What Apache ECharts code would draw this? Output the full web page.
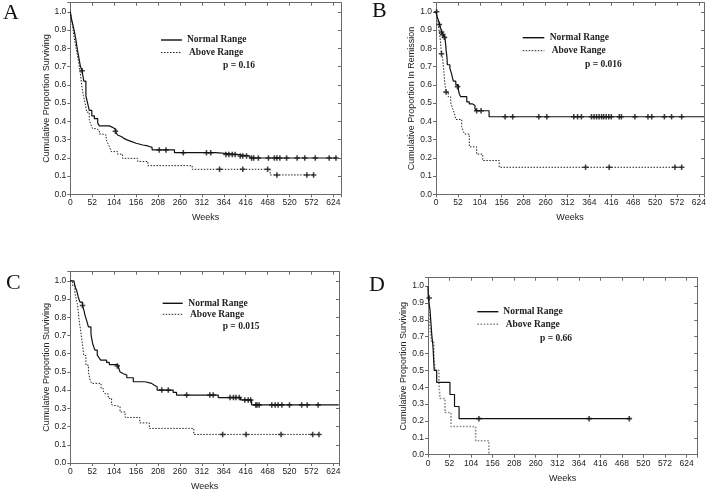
<!DOCTYPE html>
<html><head><meta charset="utf-8">
<script src="https://cdn.jsdelivr.net/npm/echarts@6/dist/echarts.min.js"></script>
<style>html,body{margin:0;padding:0;background:#fff}#c{width:710px;height:492px}</style>
</head><body><div id="c"></div>
<script>
// ---------- DATA ----------
const panelLetters = ['A', 'B', 'C', 'D'];
const yTitles = ['Cumulative Proportion Surviving', 'Cumulative Proportion In Remission',
                 'Cumulative Proportion Surviving', 'Cumulative Proportion Surviving'];
const pValues = ['p = 0.16', 'p = 0.016', 'p = 0.015', 'p = 0.66'];
const legendNames = ['Normal Range', 'Above Range'];
const xTitle = 'Weeks';
const weekStep = 52;
const propStep = 0.1;

// Panel A  [week, cumulative proportion]
const A_normal = [[0,1],[3,0.96],[6,0.93],[9,0.9],[13,0.85],[17,0.79],[21,0.74],[24,0.70],[28,0.677],[32,0.62],[37,0.54],[41,0.5],[45,0.46],[51,0.43],[57,0.415],[65,0.39],[69,0.375],[93,0.365],[102,0.355],[108,0.34],[112,0.325],[116,0.315],[122,0.305],[128,0.297],[136,0.29],[144,0.28],[156,0.27],[172,0.265],[184,0.257],[194,0.243],[247,0.228],[345,0.218],[399,0.21],[426,0.199],[632,0.199]];
const A_normalCens = [[28,0.677],[107,0.345],[211,0.243],[227,0.243],[268,0.228],[323,0.228],[333,0.228],[369,0.218],[376,0.218],[384,0.218],[391,0.218],[403,0.21],[409,0.21],[418,0.21],[430,0.199],[435,0.199],[446,0.199],[470,0.199],[484,0.199],[490,0.199],[497,0.199],[513,0.199],[538,0.199],[556,0.199],[581,0.199],[614,0.199],[630,0.199]];
const A_above = [[0,1],[3,0.95],[5.5,0.92],[9,0.86],[13,0.81],[17,0.76],[20,0.72],[24,0.66],[28,0.58],[31,0.54],[35,0.5],[39,0.45],[45,0.41],[49,0.38],[53,0.36],[61,0.35],[69,0.33],[77,0.325],[85,0.30],[89,0.28],[93,0.26],[97,0.234],[112,0.22],[124,0.197],[160,0.18],[184,0.157],[289,0.137],[474,0.106],[578,0.106]];
const A_aboveCens = [[354,0.137],[409,0.137],[468,0.137],[490,0.106],[561,0.106],[577,0.106]];

// Panel B
const B_normal = [[0,1],[3,0.97],[5.5,0.955],[9,0.93],[11,0.91],[14,0.89],[17,0.875],[21,0.86],[23,0.82],[24,0.79],[26,0.75],[27,0.71],[33,0.69],[37,0.66],[39,0.64],[41,0.62],[47,0.60],[53,0.575],[55,0.553],[58.5,0.535],[73,0.507],[79,0.495],[87,0.487],[92.5,0.47],[95,0.458],[126,0.425],[636,0.425]];
const B_normalCens = [[1.5,1.0],[8,0.93],[13,0.89],[16,0.875],[20,0.86],[51,0.59],[96.5,0.458],[107,0.458],[164,0.425],[182,0.425],[244,0.425],[263,0.425],[327,0.425],[336,0.425],[345,0.425],[369,0.425],[375,0.425],[381,0.425],[387,0.425],[393,0.425],[398,0.425],[404,0.425],[410,0.425],[416,0.425],[435,0.425],[440,0.425],[472,0.425],[503,0.425],[512,0.425],[542,0.425],[559,0.425],[583,0.425]];
const B_above = [[0,1],[3,0.99],[4,0.96],[5.5,0.93],[8,0.89],[9.5,0.86],[12,0.8],[13,0.77],[16,0.74],[17,0.71],[19,0.67],[20,0.63],[22,0.59],[24,0.56],[29,0.535],[35,0.50],[38,0.48],[41,0.46],[44,0.44],[47,0.41],[61,0.37],[65,0.343],[68,0.33],[79,0.26],[96.5,0.22],[111,0.185],[150,0.148],[587,0.148]];
const B_aboveCens = [[13,0.77],[24,0.56],[355,0.148],[411,0.148],[567,0.148],[583,0.148]];

// Panel C
const C_normal = [[0,1],[8.7,0.99],[11,0.97],[15,0.947],[19,0.91],[23,0.883],[29,0.865],[32,0.84],[35,0.81],[39,0.78],[43,0.747],[49,0.71],[51,0.68],[53,0.656],[56,0.635],[58.5,0.62],[64,0.592],[68,0.578],[72,0.565],[86,0.552],[92.5,0.54],[113,0.532],[115,0.52],[118,0.5],[122,0.49],[126,0.483],[134,0.468],[149.5,0.446],[177,0.437],[193,0.428],[198.5,0.419],[206,0.40],[244,0.388],[252,0.373],[351,0.359],[404,0.346],[430,0.319],[637,0.319]];
const C_normalCens = [[29,0.865],[111.5,0.532],[217,0.40],[232.5,0.40],[276,0.373],[331,0.373],[339,0.373],[379,0.359],[387,0.359],[393,0.359],[401,0.359],[414,0.346],[422,0.346],[428,0.346],[440,0.319],[443,0.319],[448,0.319],[478,0.319],[486,0.319],[493,0.319],[502,0.319],[520,0.319],[549,0.319],[562,0.319],[588,0.319]];
const C_above = [[0,1],[5.5,0.975],[11,0.93],[14,0.9],[16.6,0.875],[19,0.83],[21,0.78],[25,0.72],[29,0.647],[32,0.59],[37,0.537],[43,0.5],[47,0.455],[50.6,0.437],[73,0.41],[78,0.395],[82,0.38],[90,0.355],[98,0.319],[102,0.31],[118,0.28],[130,0.25],[165,0.22],[187.5,0.19],[293,0.157],[592,0.157]];
const C_aboveCens = [[361.5,0.157],[417,0.157],[500,0.157],[575,0.157],[590,0.157]];

// Panel D
const D_normal = [[0,1],[1,0.929],[5,0.857],[7,0.786],[9,0.714],[12,0.643],[15,0.5],[21,0.429],[53,0.357],[64,0.286],[75,0.214],[488,0.214]];
const D_normalCens = [[3,0.929],[123,0.214],[389,0.214],[486,0.214]];
const D_above = [[0,1],[1,0.917],[3,0.833],[5,0.75],[9,0.667],[14,0.583],[17,0.5],[26.5,0.417],[29,0.333],[41,0.25],[55.5,0.167],[115,0.083],[147,0]];
const D_aboveCens = [];

const normals = [A_normal, B_normal, C_normal, D_normal];
const normalCens = [A_normalCens, B_normalCens, C_normalCens, D_normalCens];
const aboves = [A_above, B_above, C_above, D_above];
const aboveCens = [A_aboveCens, B_aboveCens, C_aboveCens, D_aboveCens];

// ---------- LAYOUT ----------
const layout = [
  {left: 70.3, top: 2.7, width: 270.7, height: 191.6, xMax: 642, letter: [3, 13.5],
   leg: {lx: 161, lw: 21, y1: 40, y2: 52.5, t1: 187, t2: 189, px: 223, py: 66}},
  {left: 436, top: 2.7, width: 268, height: 191.6, xMax: 636, letter: [372, 11.5],
   leg: {lx: 522.7, lw: 21.6, y1: 37.7, y2: 50.7, t1: 549.7, t2: 551.7, px: 585, py: 65}},
  {left: 70.3, top: 271.7, width: 268.7, height: 191.6, xMax: 637.5, letter: [6, 283.5],
   leg: {lx: 162.7, lw: 20, y1: 303.3, y2: 314.3, t1: 188.3, t2: 190, px: 222.7, py: 327}},
  {left: 428, top: 277.7, width: 269.3, height: 177, xMax: 650, letter: [369, 285.5],
   leg: {lx: 477.3, lw: 21, y1: 311.7, y2: 324.3, t1: 503.3, t2: 505.7, px: 540, py: 338.3}}
];

const axisColor = '#6a6a6a';
const labelFont = {fontSize: 8.5, color: '#222', fontFamily: '"Liberation Sans", Arial, sans-serif'};
const plusPath = 'path://M3.6,0H6.4V3.6H10V6.4H6.4V10H3.6V6.4H0V3.6H3.6Z';

const grids = [], xAxes = [], yAxes = [], series = [], graphics = [];

layout.forEach((L, i) => {
  grids.push({left: L.left, top: L.top, width: L.width, height: L.height, containLabel: false});
  const xBase = {type: 'value', gridIndex: i, min: 0, max: L.xMax, interval: weekStep,
    splitLine: {show: false}, axisLine: {show: true, onZero: false, lineStyle: {color: axisColor, width: 1}}};
  xAxes.push(Object.assign({}, xBase, {position: 'bottom',
    axisTick: {show: true, inside: false, length: 3, lineStyle: {color: axisColor}},
    axisLabel: Object.assign({margin: 4, formatter: v => (v % weekStep === 0 ? String(v) : '')}, labelFont),
    name: xTitle, nameLocation: 'middle', nameGap: 19,
    nameTextStyle: {fontSize: 9, color: '#222', fontFamily: '"Liberation Sans", Arial, sans-serif'}}));
  xAxes.push(Object.assign({}, xBase, {position: 'top',
    axisTick: {show: true, inside: true, length: 3, lineStyle: {color: axisColor}},
    axisLabel: {show: false}}));
  const yBase = {type: 'value', gridIndex: i, min: 0, max: 1.05, interval: propStep,
    splitLine: {show: false}, axisLine: {show: true, onZero: false, lineStyle: {color: axisColor, width: 1}}};
  yAxes.push(Object.assign({}, yBase, {position: 'left',
    axisTick: {show: true, inside: false, length: 3, lineStyle: {color: axisColor}},
    axisLabel: Object.assign({margin: 4, formatter: v => {
      const k = Math.round(v * 10); return Math.abs(v * 10 - k) < 1e-6 ? (k / 10).toFixed(1) : ''; }}, labelFont),
    name: yTitles[i], nameLocation: 'middle', nameGap: 19,
    nameTextStyle: {fontSize: 9, color: '#222', fontFamily: '"Liberation Sans", Arial, sans-serif'}}));
  yAxes.push(Object.assign({}, yBase, {position: 'right',
    axisTick: {show: true, inside: true, length: 3, lineStyle: {color: axisColor}},
    axisLabel: {show: false}}));

  const aboveColor = i === 3 ? '#8a8a8a' : '#222';
  const aboveWidth = i === 3 ? 1.6 : 1;
  const aboveDash = i === 3 ? [1.6, 1.6] : [1.5, 1.5];
  series.push({type: 'line', name: legendNames[0], xAxisIndex: 2 * i, yAxisIndex: 2 * i, data: normals[i],
    step: 'end', symbol: 'none', silent: true, lineStyle: {color: '#111', width: 1.2}, z: 3});
  series.push({type: 'line', name: legendNames[1], xAxisIndex: 2 * i, yAxisIndex: 2 * i, data: aboves[i],
    step: 'end', symbol: 'none', silent: true, lineStyle: {color: aboveColor, width: aboveWidth, type: aboveDash}, z: 2});
  series.push({type: 'scatter', xAxisIndex: 2 * i, yAxisIndex: 2 * i, data: normalCens[i],
    symbol: plusPath, symbolSize: 5.5, itemStyle: {color: '#111'}, silent: true, z: 4});
  series.push({type: 'scatter', xAxisIndex: 2 * i, yAxisIndex: 2 * i, data: aboveCens[i],
    symbol: plusPath, symbolSize: 5.5, itemStyle: {color: '#111'}, silent: true, z: 4});

  // panel letter
  graphics.push({type: 'text', x: L.letter[0], y: L.letter[1],
    style: {text: panelLetters[i], font: '22px "Liberation Serif", "Times New Roman", serif', fill: '#111', verticalAlign: 'middle'}});
  // legend
  const g = L.leg;
  graphics.push({type: 'line', shape: {x1: g.lx, y1: g.y1, x2: g.lx + g.lw, y2: g.y1},
    style: {stroke: '#111', lineWidth: 1.4}});
  graphics.push({type: 'line', shape: {x1: g.lx, y1: g.y2, x2: g.lx + g.lw, y2: g.y2},
    style: {stroke: aboveColor, lineWidth: aboveWidth, lineDash: aboveDash}});
  const legFont = 'bold 9.5px "Liberation Serif", "Times New Roman", serif';
  graphics.push({type: 'text', x: g.t1, y: g.y1, style: {text: legendNames[0], font: legFont, fill: '#222', verticalAlign: 'middle'}});
  graphics.push({type: 'text', x: g.t2, y: g.y2, style: {text: legendNames[1], font: legFont, fill: '#222', verticalAlign: 'middle'}});
  graphics.push({type: 'text', x: g.px, y: g.py, style: {text: pValues[i], font: legFont, fill: '#222', verticalAlign: 'middle'}});
});

const chart = echarts.init(document.getElementById('c'), null, {renderer: 'canvas'});
chart.setOption({
  backgroundColor: '#fff',
  animation: false,
  grid: grids,
  xAxis: xAxes,
  yAxis: yAxes,
  series: series,
  graphic: graphics
});
</script>
</body></html>
